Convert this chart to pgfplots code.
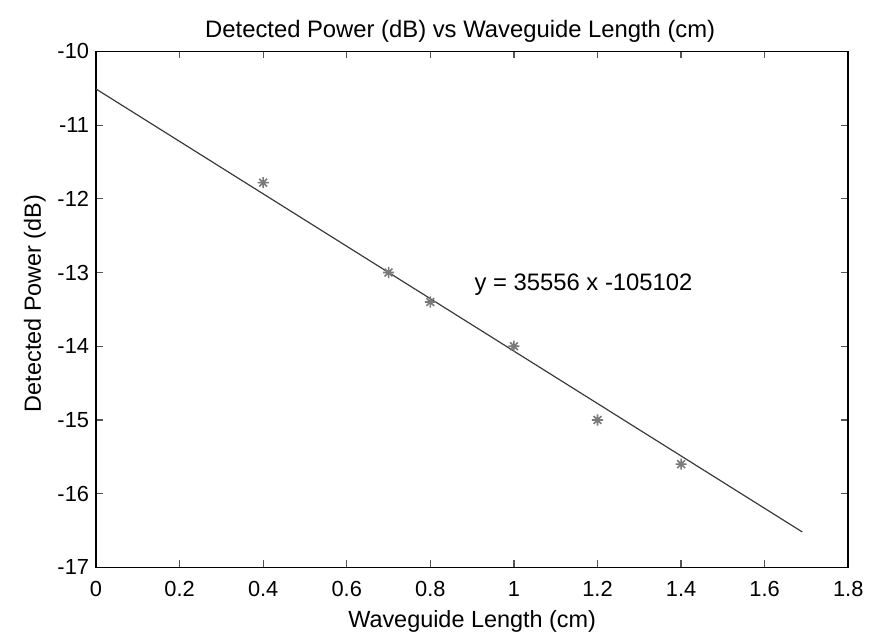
\documentclass[border=0pt]{standalone}
\usepackage{pgfplots}
\pgfplotsset{compat=1.18}
\usepackage{fontspec}
\setmainfont{Liberation Sans}
\usetikzlibrary{calc}
\definecolor{fitline}{HTML}{3A3A3A}
\definecolor{markgray}{HTML}{7A7A7A}
\definecolor{tickgray}{HTML}{555555}

% MATLAB-style '*' marker: a plus and a cross on top of each other
\pgfdeclareplotmark{mstar}{%
  \pgfpathmoveto{\pgfqpoint{-\pgfplotmarksize}{0pt}}%
  \pgfpathlineto{\pgfqpoint{\pgfplotmarksize}{0pt}}%
  \pgfpathmoveto{\pgfqpoint{0pt}{-\pgfplotmarksize}}%
  \pgfpathlineto{\pgfqpoint{0pt}{\pgfplotmarksize}}%
  \pgfpathmoveto{\pgfqpoint{-0.7\pgfplotmarksize}{-0.7\pgfplotmarksize}}%
  \pgfpathlineto{\pgfqpoint{0.7\pgfplotmarksize}{0.7\pgfplotmarksize}}%
  \pgfpathmoveto{\pgfqpoint{-0.7\pgfplotmarksize}{0.7\pgfplotmarksize}}%
  \pgfpathlineto{\pgfqpoint{0.7\pgfplotmarksize}{-0.7\pgfplotmarksize}}%
  \pgfusepathqstroke}

\begin{document}
\begin{tikzpicture}
\begin{axis}[
    name=ax,
    scale only axis,
    width=379pt,
    height=260pt,
    xmin=0, xmax=1.8,
    ymin=-17, ymax=-10,
    xtick={0,0.2,...,1.8},
    ytick={-17,-16,...,-10},
    xticklabel style={/pgf/number format/fixed, yshift=-3.5pt},
    /pgf/number format/assume math mode=true,
    tick align=inside,
    tick pos=both,
    major tick length=3.5pt,
    tick style={tickgray, line width=0.6pt},
    axis line style={black, line width=0.8pt},
    tick label style={font=\fontsize{11}{13}\selectfont},
    label style={font=\fontsize{11.8}{14}\selectfont},
    title style={font=\fontsize{12}{14}\selectfont, yshift=-5pt, xshift=-6pt},
    title={Detected Power (dB) vs Waveguide Length (cm)},
    xlabel={Waveguide Length (cm)},
    ylabel={Detected Power (dB)},
    xlabel style={yshift=0pt},
    ylabel style={yshift=-1pt, xshift=3pt},
    clip=false,
]
% least-squares fit line
\addplot[fitline, line width=0.6pt] coordinates {(0,-10.5102) (1.69,-16.5192)};
% measured points
\addplot[only marks, mark=mstar, mark size=2.8pt, markgray, line width=0.8pt] coordinates {
  (0.4,-11.78)
  (0.7,-13.00)
  (0.8,-13.40)
  (1.0,-14.00)
  (1.2,-15.00)
  (1.4,-15.60)
};
\node[anchor=west, inner xsep=0pt, font=\fontsize{12}{14}\selectfont] at (axis cs:0.905,-13.17) {y = 35556 x -105102};
\end{axis}
\path[use as bounding box] ($(ax.south west)+(-48.4pt,-33.5pt)$) rectangle ($(ax.north east)+(7.5pt,25.9pt)$);
\end{tikzpicture}
\end{document}
